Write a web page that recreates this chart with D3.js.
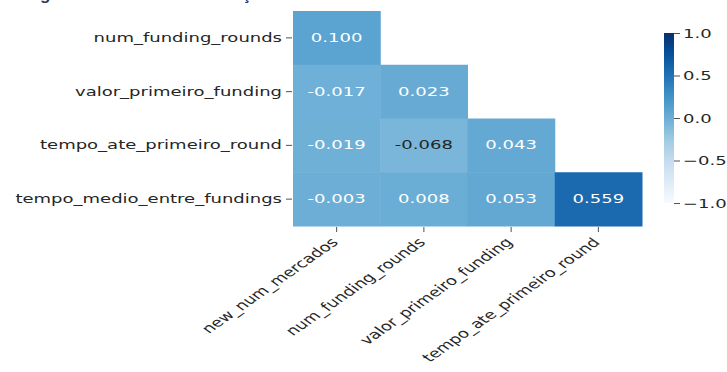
<!DOCTYPE html>
<html>
<head>
<meta charset="utf-8">
<script src="https://cdn.jsdelivr.net/npm/d3@7"></script>
<style>
  html, body { margin: 0; padding: 0; background: #fff; }
  svg { display: block; }
</style>
</head>
<body>
<svg id="chart" width="727" height="372"></svg>
<script>
// Row and column variables of the lower-triangle correlation matrix
const rowNames = ["num_funding_rounds", "valor_primeiro_funding", "tempo_ate_primeiro_round", "tempo_medio_entre_fundings"];
const colNames = ["new_num_mercados", "num_funding_rounds", "valor_primeiro_funding", "tempo_ate_primeiro_round"];

// Correlation values, one array per row (upper triangle masked)
const rowNumFundingRounds = [0.100];
const rowValorPrimeiroFunding = [-0.017, 0.023];
const rowTempoAtePrimeiroRound = [-0.019, -0.068, 0.043];
const rowTempoMedioEntreFundings = [-0.003, 0.008, 0.053, 0.559];
const matrixRows = [rowNumFundingRounds, rowValorPrimeiroFunding, rowTempoAtePrimeiroRound, rowTempoMedioEntreFundings];

// Colour bar ticks
const colorbarTicks = [-1.0, -0.5, 0.0, 0.5, 1.0];

const captionLeft = "Figura 5 – Matriz de ";
const captionRight = "Correlação";

const svg = d3.select("#chart");
const font = "'DejaVu Sans', sans-serif";
const fontSize = 12.6;
const sx = 1.43;         // horizontal stretch of the figure's text
const textColor = "#262626";

// Matplotlib "Blues" colour ramp
const bluesStops = ["#f7fbff", "#deebf7", "#c6dbef", "#9ecae1", "#6baed6", "#4292c6", "#2171b5", "#08519c", "#08306b"];
const blues = d3.scaleLinear()
  .domain(d3.range(bluesStops.length).map(i => -1 + 2 * i / (bluesStops.length - 1)))
  .range(bluesStops)
  .interpolate(d3.interpolateRgb)
  .clamp(true);

function luminance(c) {
  const rgb = d3.rgb(c);
  const lin = v => { v /= 255; return v <= 0.03928 ? v / 12.92 : Math.pow((v + 0.055) / 1.055, 2.4); };
  return 0.2126 * lin(rgb.r) + 0.7152 * lin(rgb.g) + 0.0722 * lin(rgb.b);
}

// Caption above the figure (runs off the top edge)
function caption(str, anchorChar, anchorX) {
  const t = svg.append("text")
    .attr("x", 0).attr("y", 0)
    .attr("font-family", "'Liberation Sans', sans-serif")
    .attr("font-weight", "bold")
    .attr("font-size", 17)
    .attr("fill", "#1f3a6e")
    .text(str);
  const idx = str.indexOf(anchorChar);
  const pos = t.node().getStartPositionOfChar(idx).x;
  t.attr("x", anchorX - pos);
}
caption(captionLeft, "g", 40);
caption(captionRight, "ç", 242);

// Heatmap area
const hm = { left: 293, top: 11, right: 642, bottom: 226 };
const x = d3.scaleBand().domain(colNames).range([hm.left, hm.right]).padding(0);
const y = d3.scaleBand().domain(rowNames).range([hm.top, hm.bottom]).padding(0);

const cells = [];
matrixRows.forEach((vals, ri) => vals.forEach((v, ci) => cells.push({ row: rowNames[ri], col: colNames[ci], v })));

const g = svg.append("g");
g.selectAll("rect.cell").data(cells).join("rect")
  .attr("class", "cell")
  .attr("x", d => x(d.col))
  .attr("y", d => y(d.row))
  .attr("width", x.bandwidth() + 0.5)
  .attr("height", y.bandwidth() + 0.5)
  .attr("fill", d => blues(d.v));

g.selectAll("text.annot").data(cells).join("text")
  .attr("class", "annot")
  .attr("transform", d => `translate(${x(d.col) + x.bandwidth() / 2},${y(d.row) + y.bandwidth() / 2}) scale(${sx},1)`)
  .attr("text-anchor", "middle")
  .attr("dominant-baseline", "central")
  .attr("font-family", font)
  .attr("font-size", fontSize)
  .attr("fill", d => luminance(blues(d.v)) > 0.408 ? textColor : "#ffffff")
  .text(d => d3.format(".3f")(d.v).replace("−", "-"));

// Y axis (left)
const yAxis = d3.axisLeft(y).tickSize(6).tickPadding(4);
const yg = svg.append("g").attr("transform", `translate(${hm.left - 1},0)`).call(yAxis);
yg.select(".domain").remove();
yg.selectAll(".tick line").attr("stroke", textColor).attr("stroke-width", 0.8);
yg.selectAll(".tick text")
  .attr("font-family", font).attr("font-size", fontSize).attr("fill", textColor)
  .attr("x", null)
  .attr("transform", `translate(-10,0) scale(${sx},1)`);

// X axis (bottom) with rotated labels
const xAxis = d3.axisBottom(x).tickSize(5).tickPadding(3);
const xg = svg.append("g").attr("transform", `translate(0,${hm.bottom + 1})`).call(xAxis);
xg.select(".domain").remove();
xg.selectAll(".tick line").attr("stroke", textColor).attr("stroke-width", 0.8);
xg.selectAll(".tick text")
  .attr("font-family", font).attr("font-size", fontSize).attr("fill", textColor)
  .attr("text-anchor", "end")
  .attr("y", 0)
  .attr("dy", "0.35em")
  .attr("transform", `translate(-2,13) scale(${sx},1) rotate(-45)`);

// Colour bar
const cb = { x: 664, w: 10, top: 33, bottom: 203 };
const defs = svg.append("defs");
const grad = defs.append("linearGradient").attr("id", "cbGrad")
  .attr("x1", 0).attr("y1", 1).attr("x2", 0).attr("y2", 0);
bluesStops.forEach((c, i) => grad.append("stop").attr("offset", i / (bluesStops.length - 1)).attr("stop-color", c));
svg.append("rect")
  .attr("x", cb.x).attr("y", cb.top)
  .attr("width", cb.w).attr("height", cb.bottom - cb.top)
  .attr("fill", "url(#cbGrad)");

const cbScale = d3.scaleLinear().domain([-1, 1]).range([cb.bottom, cb.top]);
const cbAxis = d3.axisRight(cbScale).tickValues(colorbarTicks).tickSize(6).tickPadding(4)
  .tickFormat(d => d3.format(".1f")(d));
const cg = svg.append("g").attr("transform", `translate(${cb.x + cb.w},0)`).call(cbAxis);
cg.select(".domain").remove();
cg.selectAll(".tick line").attr("stroke", textColor).attr("stroke-width", 0.8);
cg.selectAll(".tick text")
  .attr("font-family", font).attr("font-size", fontSize).attr("fill", textColor)
  .attr("x", null)
  .attr("transform", `translate(9,0) scale(${sx},1)`);
</script>
</body>
</html>
